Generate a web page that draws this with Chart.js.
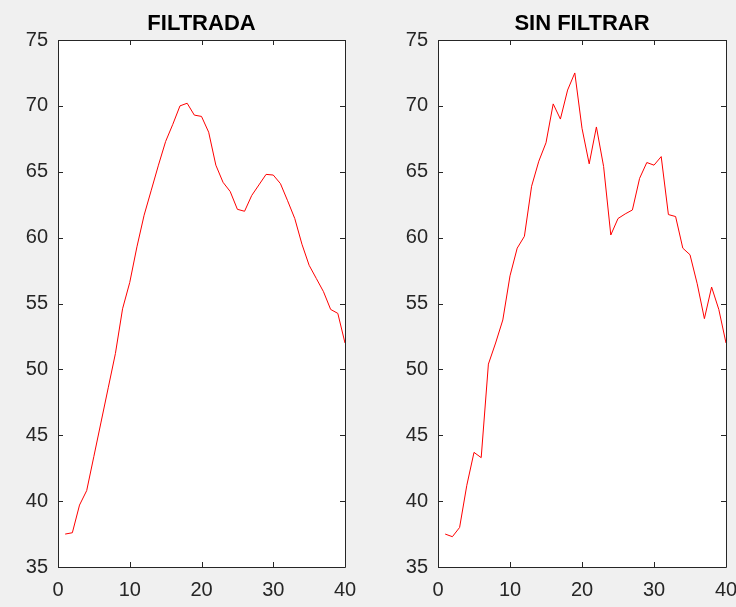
<!DOCTYPE html>
<html>
<head>
<meta charset="utf-8">
<script src="https://cdn.jsdelivr.net/npm/chart.js@4"></script>
<style>
  html, body { margin: 0; padding: 0; background: #f0f0f0; overflow: hidden; }
  .panel { position: absolute; top: 0; height: 607px; }
  #left { left: 0; width: 368px; }
  #right { left: 368px; width: 390px; }
</style>
</head>
<body>
<div class="panel" id="left"><canvas id="chartFiltrada"></canvas></div>
<div class="panel" id="right"><canvas id="chartSinFiltrar"></canvas></div>
<script>
// sample index 1..40
const samples = Array.from({ length: 40 }, (_, i) => i + 1);

const filtrada = [
  37.5, 37.6, 39.7, 40.8, 43.4, 46.0, 48.6, 51.2, 54.6, 56.6,
  59.3, 61.7, 63.6, 65.5, 67.3, 68.6, 70.0, 70.2, 69.3, 69.2,
  68.0, 65.5, 64.2, 63.5, 62.15, 62.0, 63.2, 64.0, 64.8, 64.75,
  64.1, 62.8, 61.45, 59.5, 57.9, 56.9, 55.9, 54.55, 54.25, 52.0
];

const sinFiltrar = [
  37.5, 37.3, 38.0, 41.2, 43.7, 43.3, 50.4, 52.0, 53.75, 57.1,
  59.2, 60.1, 63.9, 65.8, 67.2, 70.15, 69.0, 71.2, 72.5, 68.3,
  65.6, 68.4, 65.4, 60.2, 61.45, 61.8, 62.1, 64.5, 65.7, 65.5,
  66.15, 61.75, 61.6, 59.2, 58.7, 56.5, 53.85, 56.25, 54.55, 52.0
];

const xTicks = [0, 10, 20, 30, 40];
const yTicks = [35, 40, 45, 50, 55, 60, 65, 70, 75];

const axisColor = '#262626';
const fontFamily = '"Liberation Sans", Arial, Helvetica, sans-serif';

// MATLAB style box: white plot area, border on all sides, ticks pointing inward
const boxPlugin = {
  id: 'matlabBox',
  beforeDraw(chart) {
    const { ctx, chartArea: a } = chart;
    ctx.save();
    ctx.fillStyle = '#ffffff';
    ctx.fillRect(a.left, a.top, a.right - a.left, a.bottom - a.top);
    ctx.restore();
  },
  afterDraw(chart, args, opts) {
    const { ctx, chartArea: a } = chart;
    const xs = chart.scales.x, ys = chart.scales.y;
    const len = 5;
    ctx.save();
    ctx.strokeStyle = axisColor;
    ctx.lineWidth = 1;
    ctx.beginPath();
    ctx.rect(Math.round(a.left) + 0.5, Math.round(a.top) + 0.5,
             Math.round(a.right - a.left), Math.round(a.bottom - a.top));
    xTicks.forEach(v => {
      const px = Math.round(xs.getPixelForValue(v)) + 0.5;
      ctx.moveTo(px, a.bottom); ctx.lineTo(px, a.bottom - len);
      ctx.moveTo(px, a.top); ctx.lineTo(px, a.top + len);
    });
    yTicks.forEach(v => {
      const py = Math.round(ys.getPixelForValue(v)) + 0.5;
      ctx.moveTo(a.left, py); ctx.lineTo(a.left + len, py);
      ctx.moveTo(a.right, py); ctx.lineTo(a.right - len, py);
    });
    ctx.stroke();

    // title
    ctx.fillStyle = '#000000';
    ctx.font = 'bold 22px ' + fontFamily;
    ctx.textAlign = 'center';
    ctx.textBaseline = 'middle';
    ctx.fillText(opts.text, (a.left + a.right) / 2, 24);
    ctx.restore();
  }
};

function makeChart(id, title, values, yAxisWidth, rightPad) {
  return new Chart(document.getElementById(id), {
    type: 'line',
    data: {
      labels: samples,
      datasets: [{
        data: samples.map((x, i) => ({ x, y: values[i] })),
        borderColor: '#ff0000',
        borderWidth: 1,
        pointRadius: 0,
        tension: 0,
        fill: false
      }]
    },
    options: {
      responsive: true,
      maintainAspectRatio: false,
      animation: false,
      layout: { padding: { top: 40, right: rightPad, bottom: 0, left: 0 } },
      scales: {
        x: {
          type: 'linear',
          min: 0,
          max: 40,
          afterBuildTicks: s => { s.ticks = xTicks.map(v => ({ value: v })); },
          afterFit: s => { s.height = 40; },
          grid: { display: false, drawTicks: false },
          border: { display: false },
          ticks: {
            color: axisColor,
            font: { family: fontFamily, size: 20 },
            padding: 11,
            maxRotation: 0
          }
        },
        y: {
          type: 'linear',
          min: 35,
          max: 75,
          afterBuildTicks: s => { s.ticks = yTicks.map(v => ({ value: v })); },
          afterFit: s => { s.width = yAxisWidth; },
          grid: { display: false, drawTicks: false },
          border: { display: false },
          ticks: {
            color: axisColor,
            font: { family: fontFamily, size: 20 },
            padding: 10
          }
        }
      },
      plugins: {
        legend: { display: false },
        tooltip: { enabled: false },
        matlabBox: { text: title }
      }
    },
    plugins: [boxPlugin]
  });
}

makeChart('chartFiltrada', 'FILTRADA', filtrada, 58, 23);
makeChart('chartSinFiltrar', 'SIN FILTRAR', sinFiltrar, 70, 32);
</script>
</body>
</html>
